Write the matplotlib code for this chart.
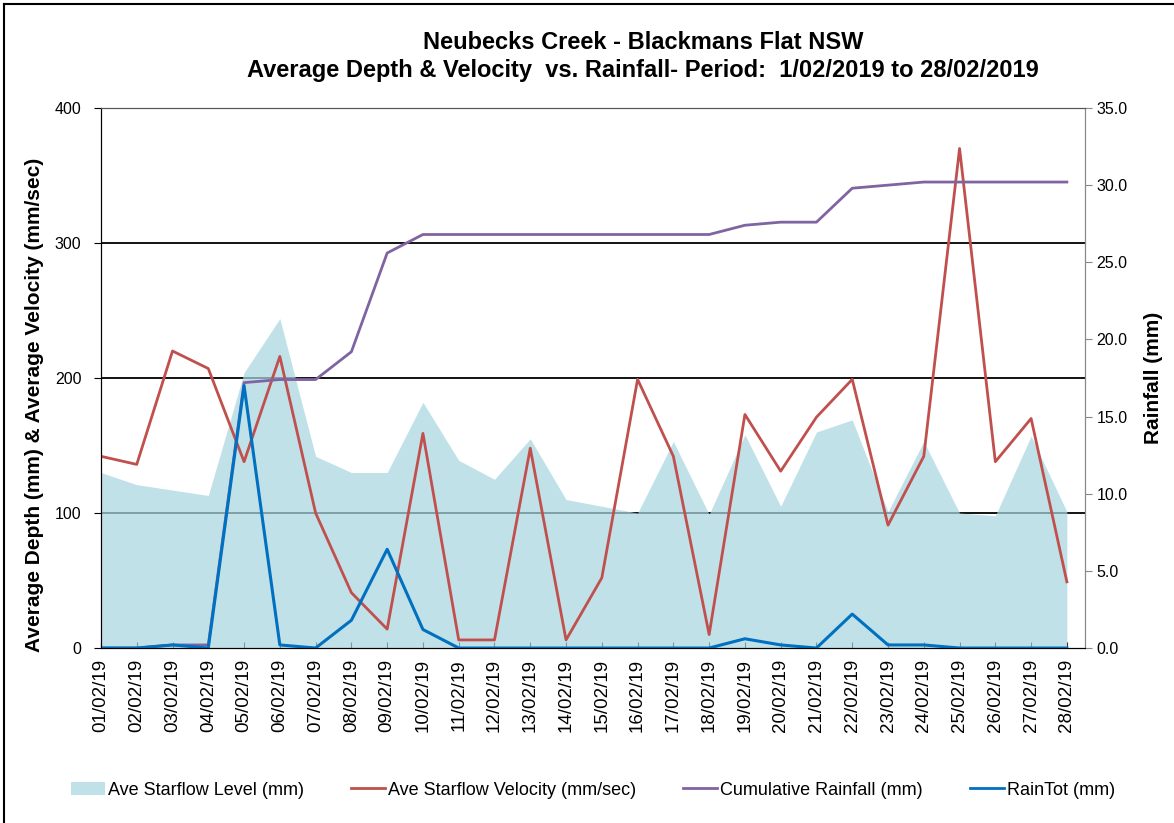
import matplotlib.pyplot as plt
from matplotlib.lines import Line2D
from matplotlib.patches import Patch
import numpy as np

plt.rcParams['font.family'] = ['Liberation Sans', 'DejaVu Sans']

dates = ["%02d/02/19" % d for d in range(1, 29)]

# Ave Starflow Level (mm)
level = [130, 121, 117, 113, 204, 244, 142, 130, 130, 182, 139, 125, 155, 110,
         105, 100, 153, 99, 158, 105, 160, 169, 101, 153, 100, 98, 157, 101]
# Ave Starflow Velocity (mm/sec)
velocity = [142, 136, 220, 207, 138, 216, 100, 41, 14, 159, 6, 6, 148, 6,
            52, 199, 142, 10, 173, 131, 171, 199, 91, 142, 370, 138, 170, 49]
# Cumulative Rainfall (mm)
cum_rain = [0, 0, 0.2, 0.2, 17.2, 17.4, 17.4, 19.2, 25.6, 26.8, 26.8, 26.8, 26.8, 26.8,
            26.8, 26.8, 26.8, 26.8, 27.4, 27.6, 27.6, 29.8, 30.0, 30.2, 30.2, 30.2, 30.2, 30.2]
# RainTot (mm)
rain_tot = [0, 0, 0.2, 0, 17.0, 0.2, 0, 1.8, 6.4, 1.2, 0, 0, 0, 0,
            0, 0, 0, 0, 0.6, 0.2, 0, 2.2, 0.2, 0.2, 0, 0, 0, 0]

c_area = '#a9d6e1'
c_red = '#c0504d'
c_purple = '#8064a2'
c_blue = '#0070c0'

fig = plt.figure(figsize=(11.74, 8.23), dpi=100)
ax = fig.add_axes([0.086, 0.2126, 0.838, 0.6562])
ax2 = ax.twinx()

x = np.arange(len(dates))

# horizontal gridlines
for v in [100, 200, 300]:
    ax.axhline(v, color='black', lw=1.3, zorder=1)
ax.fill_between(x, level, 0, color=c_area, alpha=0.72, lw=0, zorder=2)
ax.plot(x, velocity, color=c_red, lw=2, zorder=3)

ax2.plot(x, cum_rain, color=c_purple, lw=2)
ax2.plot(x, rain_tot, color=c_blue, lw=2.2)

ax.set_xlim(0, 27.5)
ax.set_ylim(0, 400)
ax2.set_ylim(0, 35)
ax.set_yticks([0, 100, 200, 300, 400])
ax2.set_yticks(np.arange(0, 36, 5))
ax2.set_yticklabels(["%.1f" % v for v in np.arange(0, 36, 5)])
ax.set_xticks(x)
ax.set_xticklabels(dates, rotation=90, fontsize=13.5)
ax.tick_params(axis='y', labelsize=11.5, length=5, direction='out', pad=9)
ax2.tick_params(axis='y', labelsize=11.5, length=5, color='#888888')
ax.tick_params(axis='x', length=4, direction='in', pad=8)

for a in (ax, ax2):
    a.spines['top'].set_color('#555555')
    a.spines['right'].set_color('#888888')
    a.spines['left'].set_color('black')
    a.spines['bottom'].set_color('black')
ax.set_zorder(ax2.get_zorder() - 1)
ax2.patch.set_visible(False)

ax.set_ylabel("Average Depth (mm) & Average Velocity (mm/sec)", fontsize=15,
              fontweight='bold')
ax.yaxis.set_label_coords(-0.058, 0.45)
ax2.set_ylabel("Rainfall (mm)", fontsize=15, fontweight='bold', labelpad=12)

fig.text(0.548, 0.948, "Neubecks Creek - Blackmans Flat NSW", ha='center', va='center',
         fontsize=17, fontweight='bold')
fig.text(0.548, 0.914, "Average Depth & Velocity  vs. Rainfall- Period:  1/02/2019 to 28/02/2019",
         ha='center', va='center', fontsize=17, fontweight='bold')

handles = [Patch(color=c_area, alpha=0.72, lw=0),
           Line2D([], [], color=c_red, lw=2),
           Line2D([], [], color=c_purple, lw=2),
           Line2D([], [], color=c_blue, lw=2)]
labels = ["Ave Starflow Level (mm)", "Ave Starflow Velocity (mm/sec)",
          "Cumulative Rainfall (mm)", "RainTot (mm)"]
fig.legend(handles, labels, loc='center', bbox_to_anchor=(0.505, 0.04), ncol=4,
           frameon=False, fontsize=13, handlelength=1.9, handletextpad=0.15,
           columnspacing=2.6)

# outer frame
fig.add_artist(Line2D([0.003, 1.0], [0.995, 0.995], color='black', lw=1.5,
                      transform=fig.transFigure))
fig.add_artist(Line2D([0.003, 0.003], [0.0, 0.995], color='black', lw=1.5,
                      transform=fig.transFigure))

fig.savefig('out.png', dpi=100)
